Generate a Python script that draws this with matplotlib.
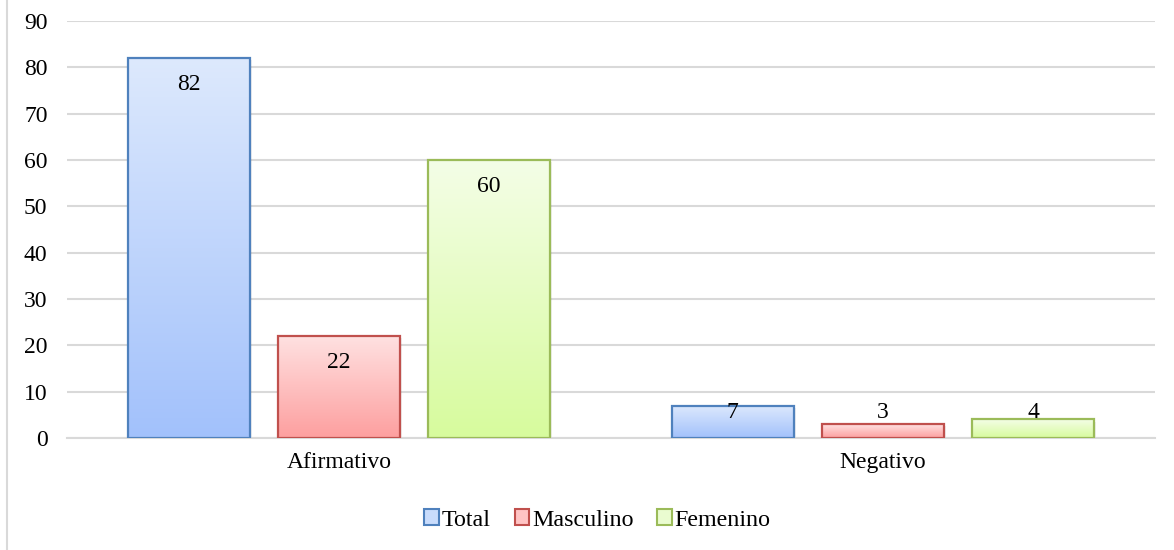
import numpy as np
import matplotlib
matplotlib.use("Agg")
import matplotlib.pyplot as plt
from matplotlib.colors import LinearSegmentedColormap
from matplotlib.patches import Patch
from matplotlib.lines import Line2D

categories = ["Afirmativo", "Negativo"]
series_names = ["Total", "Masculino", "Femenino"]
total = [82, 7]
masculino = [22, 3]
femenino = [60, 4]
yticks = [0, 10, 20, 30, 40, 50, 60, 70, 80, 90]

values = [total, masculino, femenino]
top_colors = ["#dde9fd", "#ffe1e1", "#f4fee7"]
bottom_colors = ["#a2c1fb", "#fd9f9f", "#d7fb9d"]
edge_colors = ["#4f81bd", "#c0504d", "#9bbb59"]
legend_fill = ["#c9dcfc", "#ffc4c4", "#eafcd0"]

plt.rcParams['font.family'] = ['Liberation Serif', 'DejaVu Serif']

fig = plt.figure(figsize=(11.74, 5.5), dpi=100)
ax = fig.add_axes([67/1174, 1 - 438/550, (1155 - 67)/1174, (438 - 21)/550])

x = np.arange(len(categories))
width = 0.224
step = 0.276
offsets = [-step, 0, step]

ax.set_xlim(-0.5, len(categories) - 0.5)
ax.set_ylim(0, 90)

for s, vals in enumerate(values):
    cmap = LinearSegmentedColormap.from_list("g%d" % s, [bottom_colors[s], top_colors[s]])
    grad = np.linspace(0, 1, 256).reshape(-1, 1)
    bars = ax.bar(x + offsets[s], vals, width, facecolor="none",
                  edgecolor=edge_colors[s], linewidth=1.6, zorder=3)
    for b, v in zip(bars, vals):
        x0 = b.get_x()
        # subtle shadow
        ax.bar(x0 + b.get_width() / 2 + 0.004, v, b.get_width(), bottom=-0.5,
               color="#000000", alpha=0.06, linewidth=0, zorder=2)
        im = ax.imshow(grad, cmap=cmap, origin="lower", aspect="auto",
                       extent=[x0, x0 + b.get_width(), 0, v], zorder=2.5,
                       interpolation="bilinear")
        im.set_clip_path(b)
        ylab = max(v - 5.8, 5.4)
        ax.text(b.get_x() + b.get_width() / 2, ylab, str(v), ha="center",
                va="center", fontsize=17, color="#000000", zorder=5)

ax.set_xlim(-0.5, len(categories) - 0.5)
ax.set_ylim(0, 90)
ax.set_yticks(yticks)
ax.set_yticklabels([str(t) for t in yticks], fontsize=17)
ax.set_xticks(x)
ax.set_xticklabels(categories, fontsize=17)
ax.tick_params(axis="both", length=0)
ax.tick_params(axis="y", pad=14)
ax.tick_params(axis="x", pad=10)
ax.yaxis.grid(True, color="#d9d9d9", linewidth=1.5, zorder=0)
ax.set_axisbelow(True)
for sp in ["top", "right", "left"]:
    ax.spines[sp].set_visible(False)
ax.spines["bottom"].set_color("#d9d9d9")
ax.spines["bottom"].set_linewidth(1.5)

handles = [Patch(facecolor=legend_fill[i], edgecolor=edge_colors[i], linewidth=1.5,
                 label=series_names[i]) for i in range(3)]
leg = fig.legend(handles=handles, loc="center", bbox_to_anchor=(597.5/1174, 1 - 520/550),
                 ncol=3, frameon=False, fontsize=17.3, handlelength=0.6, handleheight=0.6,
                 handletextpad=0.12, columnspacing=1.0)

fig.add_artist(Line2D([6.5/1174, 6.5/1174], [0, 1], color="#d9d9d9", linewidth=1.5))

fig.savefig("out.png", dpi=100)
